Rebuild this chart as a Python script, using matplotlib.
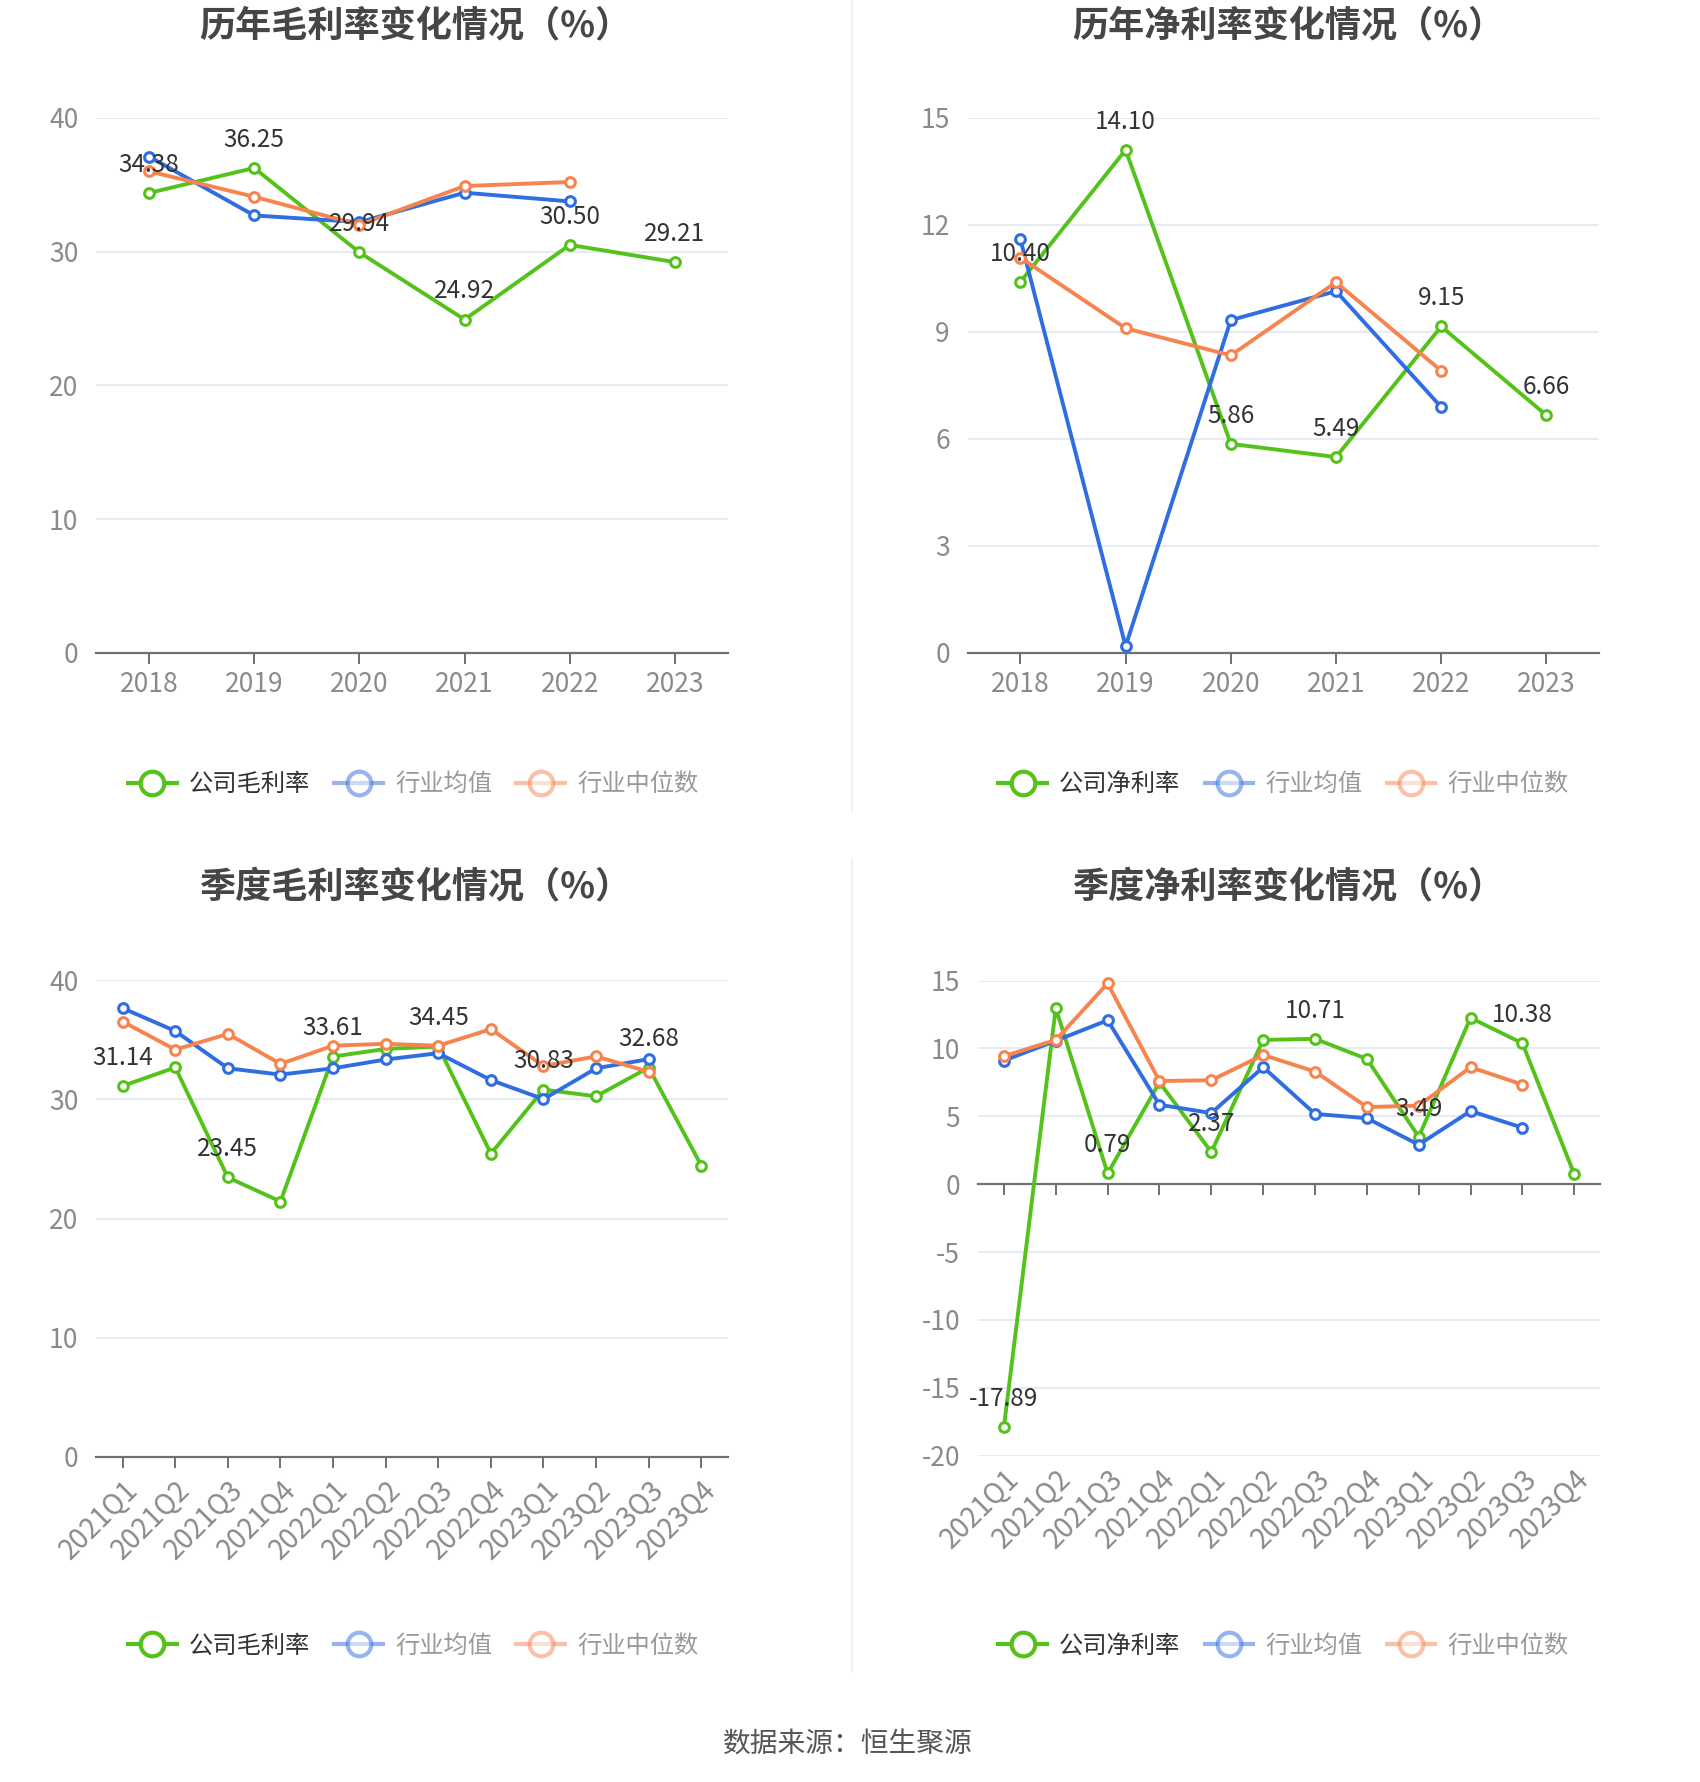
import numpy as np
import matplotlib
matplotlib.use("Agg")
import matplotlib.pyplot as plt
from matplotlib.lines import Line2D

plt.rcParams['font.family'] = ['Noto Sans CJK SC', 'DejaVu Sans']
plt.rcParams['axes.unicode_minus'] = False

years = ['2018', '2019', '2020', '2021', '2022', '2023']
quarters = ['2021Q1', '2021Q2', '2021Q3', '2021Q4', '2022Q1', '2022Q2',
            '2022Q3', '2022Q4', '2023Q1', '2023Q2', '2023Q3', '2023Q4']

# annual gross margin
gross_y_company = [34.38, 36.25, 29.94, 24.92, 30.50, 29.21]
gross_y_mean = [37.1, 32.7, 32.2, 34.4, 33.75]
gross_y_median = [36.0, 34.1, 32.0, 34.9, 35.2]

# annual net margin
net_y_company = [10.40, 14.10, 5.86, 5.49, 9.15, 6.66]
net_y_mean = [11.59, 0.19, 9.33, 10.14, 6.89]
net_y_median = [11.08, 9.10, 8.34, 10.39, 7.91]

# quarterly gross margin
gross_q_company = [31.14, 32.69, 23.45, 21.43, 33.61, 34.25, 34.45, 25.45, 30.83, 30.27, 32.68, 24.45]
gross_q_mean = [37.67, 35.75, 32.62, 32.09, 32.62, 33.36, 33.89, 31.63, 30.03, 32.62, 33.39]
gross_q_median = [36.54, 34.19, 35.51, 32.99, 34.52, 34.68, 34.52, 35.91, 32.82, 33.62, 32.33]

# quarterly net margin
net_q_company = [-17.89, 12.98, 0.79, 7.5, 2.37, 10.63, 10.71, 9.23, 3.49, 12.26, 10.38, 0.73]
net_q_mean = [9.11, 10.57, 12.08, 5.85, 5.24, 8.62, 5.18, 4.86, 2.91, 5.39, 4.16]
net_q_median = [9.43, 10.63, 14.79, 7.60, 7.66, 9.52, 8.30, 5.68, 5.79, 8.62, 7.34]

GREEN = '#55C21B'
BLUE = '#2F6DE1'
ORANGE = '#F7844F'
GRID = '#E0E6F1'
TICK = '#8A8A8A'

fig = plt.figure(figsize=(17, 17.82), dpi=100)


def draw_panel(rect, cats, company, mean, median, ylim, yticks, label_every, rotate):
    ax = fig.add_axes(rect)
    x = np.arange(len(cats))
    for vals, col, z in [(company, GREEN, 3), (mean, BLUE, 4), (median, ORANGE, 5)]:
        xx = x[:len(vals)]
        ax.plot(xx, vals, color=col, lw=2.8, marker='o', ms=7, mfc='white',
                mec=col, mew=2.2, zorder=z, clip_on=False)
    for i in range(0, len(company), label_every):
        ax.annotate('%.2f' % company[i], (x[i], company[i]), xytext=(0, 11),
                    textcoords='offset points', ha='center', va='bottom',
                    fontsize=17.5, color='#333333', zorder=10)
    ax.set_xlim(-0.5, len(cats) - 0.5)
    ax.set_ylim(*ylim)
    ax.set_yticks(yticks)
    ax.yaxis.grid(True, color=GRID, lw=1.2)
    ax.set_axisbelow(True)
    for s in ['top', 'right', 'left']:
        ax.spines[s].set_visible(False)
    ax.spines['bottom'].set_color('#6E7079')
    ax.spines['bottom'].set_linewidth(1.6)
    ax.tick_params(axis='y', length=0, pad=13, labelsize=19, labelcolor=TICK)
    ax.set_xticks(x)
    xsize = 20 if rotate else 19
    if ylim[0] < 0:
        ax.spines['bottom'].set_position(('data', 0))
        ax.tick_params(axis='x', length=8, width=1.4, color='#6E7079', labelbottom=False)
        sec = ax.secondary_xaxis(0)
        sec.set_xticks(x)
        sec.set_xticklabels(cats)
        sec.spines['bottom'].set_visible(False)
        sec.tick_params(length=0, pad=6, labelsize=xsize, labelcolor=TICK)
        labels = sec.get_xticklabels()
    else:
        ax.set_xticklabels(cats)
        ax.tick_params(axis='x', length=8, width=1.4, color='#6E7079', pad=5,
                       labelsize=xsize, labelcolor=TICK)
        labels = ax.get_xticklabels()
    if rotate:
        for lb in labels:
            lb.set_rotation(45)
            lb.set_ha('right')
            lb.set_va('top')
            lb.set_rotation_mode('anchor')
    return ax


draw_panel([0.0567, 0.6336, 0.3713, 0.3003], years, gross_y_company, gross_y_mean,
           gross_y_median, (0, 40), [0, 10, 20, 30, 40], 1, False)
draw_panel([0.5693, 0.6336, 0.3713, 0.3003], years, net_y_company, net_y_mean,
           net_y_median, (0, 15), [0, 3, 6, 9, 12, 15], 1, False)
draw_panel([0.0567, 0.1826, 0.3713, 0.2672], quarters, gross_q_company, gross_q_mean,
           gross_q_median, (0, 40), [0, 10, 20, 30, 40], 2, True)
draw_panel([0.5753, 0.1832, 0.3660, 0.2665], quarters, net_q_company, net_q_mean,
           net_q_median, (-20, 15), [-20, -15, -10, -5, 0, 5, 10, 15], 2, True)

titles = [(0.244, 0.9855, '历年毛利率变化情况（%）'),
          (0.758, 0.9855, '历年净利率变化情况（%）'),
          (0.244, 0.502, '季度毛利率变化情况（%）'),
          (0.758, 0.502, '季度净利率变化情况（%）')]
for tx, ty, t in titles:
    fig.text(tx, ty, t, ha='center', va='center', fontsize=26, fontweight='bold',
             color='#464646')


def legend_at(cx, cy, first):
    handles = [
        Line2D([], [], color=GREEN, lw=3, marker='o', ms=17, mfc='white', mec=GREEN, mew=3),
        Line2D([], [], color=BLUE, lw=3, marker='o', ms=17, mfc='white', mec=BLUE, mew=3, alpha=0.5),
        Line2D([], [], color=ORANGE, lw=3, marker='o', ms=17, mfc='white', mec=ORANGE, mew=3, alpha=0.5),
    ]
    leg = fig.legend(handles, [first, '行业均值', '行业中位数'], loc='center',
                     bbox_to_anchor=(cx, cy), ncol=3, frameon=False, fontsize=17.5,
                     handlelength=2.0, handletextpad=0.5, columnspacing=1.0)
    for txt, c in zip(leg.get_texts(), ['#333333', '#999999', '#999999']):
        txt.set_color(c)


legend_at(0.243, 0.5600, '公司毛利率')
legend_at(0.755, 0.5600, '公司净利率')
legend_at(0.243, 0.0765, '公司毛利率')
legend_at(0.755, 0.0765, '公司净利率')

fig.add_artist(Line2D([0.5013, 0.5013], [1.0, 0.545], transform=fig.transFigure,
                      color='#EEEEEE', lw=1.2))
fig.add_artist(Line2D([0.5013, 0.5013], [0.5185, 0.0617], transform=fig.transFigure,
                      color='#EEEEEE', lw=1.2))

fig.text(0.4987, 0.021, '数据来源：恒生聚源', ha='center', va='center', fontsize=20,
         color='#555555')

fig.savefig('out.png', dpi=100, facecolor='white')
